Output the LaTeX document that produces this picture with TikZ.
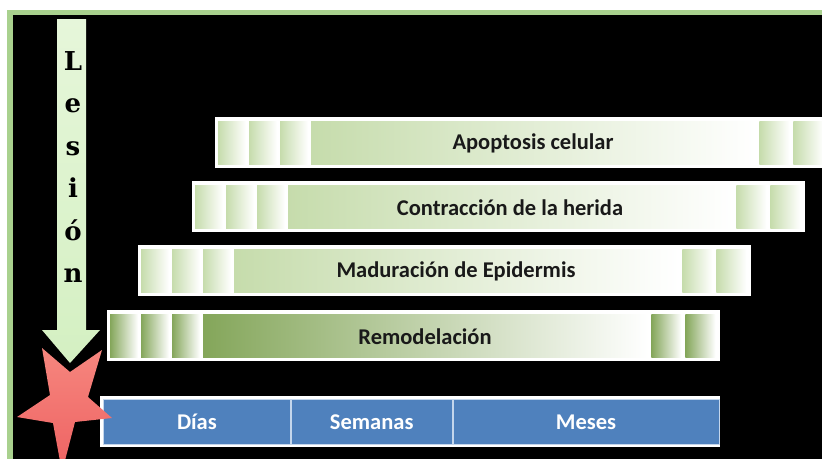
\documentclass[tikz,border=0pt]{standalone}
\usepackage{fontspec}
\setsansfont{Carlito}
\newfontfamily\lesionfont{DejaVu Serif}
\usetikzlibrary{positioning,calc}
\definecolor{framegreen}{RGB}{169,209,142}
\definecolor{arrowtop}{RGB}{230,246,218}
\definecolor{arrowfill}{RGB}{212,240,194}
\definecolor{phasefill}{RGB}{198,220,172}
\definecolor{remofill}{RGB}{132,166,90}
\definecolor{timefill}{RGB}{79,129,189}
\definecolor{timeborder}{RGB}{196,214,236}
\definecolor{startop}{RGB}{246,134,126}
\definecolor{starfill}{RGB}{238,98,98}
\definecolor{phasetextcol}{RGB}{25,25,25}

\begin{document}
\begin{tikzpicture}[
  x=1pt, y=-1pt,
  phase/.style={
    fill=white,
    anchor=north west,
    minimum width=613pt,
    minimum height=51pt,
    inner sep=0pt
  },
  stripe/.style={left color=#1, right color=white},
  mainshade/.style={left color=#1, middle color=#1!65, right color=white},
  phasetext/.style={font=\sffamily\bfseries\fontsize{22.5}{26}\selectfont, text=phasetextcol},
  tcell/.style={
    fill=timefill,
    draw=timeborder,
    line width=0.8pt,
    minimum height=45pt,
    inner sep=0pt,
    text=white,
    font=\sffamily\bfseries\fontsize{22.5}{26}\selectfont
  },
  letter/.style={anchor=base, font=\lesionfont\bfseries\fontsize{26}{30}\selectfont}
]
\useasboundingbox (0,0) rectangle (822,458);
\fill[white] (0,0) rectangle (822,458);
\clip (0,0) rectangle (822,458);

% ========== Frame ==========
\fill[framegreen] (7,10) rectangle (830,470);
\fill[black] (13,15) rectangle (830,470);

% ========== Phases ==========
\foreach \bname/\bx/\by/\bcol/\btxt in {
  apop/215/117/phasefill/Apoptosis celular,
  contr/192/181/phasefill/Contracción de la herida,
  madur/138/245/phasefill/Maduración de Epidermis,
  remod/107/310/remofill/Remodelación}
{
  \node[phase] (\bname) at (\bx,\by) {};
  \foreach \o in {3,34,65}
    \shade[stripe=\bcol] ($(\bname.north west)+(\o,4)$) rectangle ++(28,43);
  \shade[mainshade=\bcol] ($(\bname.north west)+(96,4)$) rectangle ($(\bname.south east)+(-72,-4)$);
  \foreach \o in {-69,-35}
    \shade[stripe=\bcol] ($(\bname.north east)+(\o,4)$) rectangle ++(30,43);
  \node[phasetext] (\bname-txt) at ($(\bname.west)+(318,1)$) {\btxt};
}

% ========== Time scale ==========
\node[phase, minimum width=620pt] (scale) at (100,396) {};
\node[tcell, minimum width=187pt, anchor=north west] (dias) at ($(scale.north west)+(3,3)$) {Días};
\node[tcell, minimum width=161pt, right=0pt of dias] (semanas) {Semanas};
\node[tcell, minimum width=266pt, right=0pt of semanas] (meses) {Meses};

% ========== Lesion star and arrow ==========
\shade[top color=startop, bottom color=starfill]
  (42,348) -- (70,372) -- (102,350) -- (88,397) -- (112,418) -- (75,422)
  -- (62,472) -- (53,423) -- (17,417) -- (50,395) -- cycle;

\shade[top color=arrowtop, bottom color=arrowfill]
  (57,19) -- (86,19) -- (86,330) -- (100,330) -- (70,363) -- (42,330) -- (57,330) -- cycle;

\foreach \l [count=\i] in {L,e,s,i,ó,n}
  \node[letter] (lesion-\i) at (73,{27.5+42.5*\i}) {\l};

\end{tikzpicture}
\end{document}
